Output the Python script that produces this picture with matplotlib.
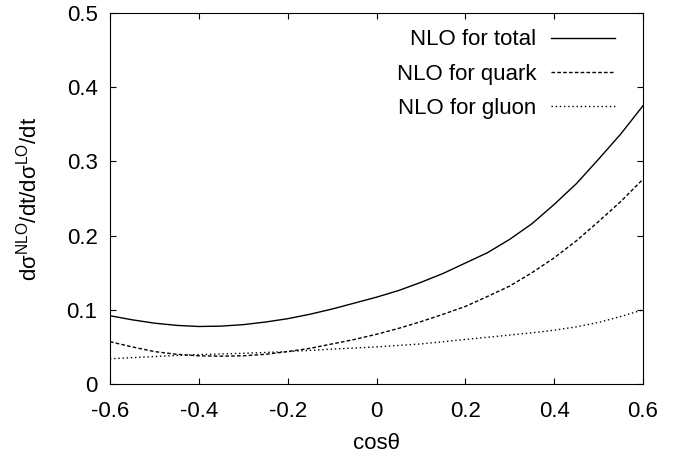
import matplotlib
matplotlib.use("Agg")
import matplotlib.pyplot as plt

plt.rcParams['font.family'] = ['Liberation Sans', 'DejaVu Sans']
plt.rcParams['mathtext.fontset'] = 'custom'
plt.rcParams['mathtext.rm'] = 'Liberation Sans'
plt.rcParams['mathtext.it'] = 'Liberation Sans:italic'
plt.rcParams['axes.unicode_minus'] = False

# values, every 0.05 in cos(theta)
cos_theta = [-0.6, -0.55, -0.5, -0.45, -0.4, -0.35, -0.3, -0.25, -0.2, -0.15, -0.1, -0.05,
             0.0, 0.05, 0.1, 0.15, 0.2, 0.25, 0.3, 0.35, 0.4, 0.45, 0.5, 0.55, 0.6]
nlo_total = [0.092, 0.0865, 0.082, 0.079, 0.0775, 0.078, 0.080, 0.0835, 0.088, 0.094, 0.101, 0.109,
             0.117, 0.126, 0.137, 0.149, 0.163, 0.177, 0.195, 0.216, 0.242, 0.270, 0.303, 0.337, 0.375]
nlo_quark = [0.057, 0.050, 0.0437, 0.040, 0.038, 0.0375, 0.038, 0.040, 0.0437, 0.048, 0.054, 0.060,
             0.067, 0.075, 0.084, 0.094, 0.1045, 0.118, 0.132, 0.150, 0.170, 0.193, 0.219, 0.246, 0.276]
nlo_gluon = [0.034, 0.0355, 0.037, 0.0385, 0.0397, 0.0405, 0.0414, 0.0425, 0.0437, 0.0453, 0.047, 0.0485,
             0.050, 0.052, 0.054, 0.057, 0.060, 0.063, 0.066, 0.069, 0.0725, 0.077, 0.083, 0.091, 0.100]

xticks = [-0.6, -0.4, -0.2, 0, 0.2, 0.4, 0.6]
xtick_labels = ["-0.6", "-0.4", "-0.2", "0", "0.2", "0.4", "0.6"]
yticks = [0, 0.1, 0.2, 0.3, 0.4, 0.5]
ytick_labels = ["0", "0.1", "0.2", "0.3", "0.4", "0.5"]

fs = 16

fig = plt.figure(figsize=(6.76, 4.55), dpi=100)
ax = fig.add_axes([110/676, 71/455, 533/676, 371/455])

ax.plot(cos_theta, nlo_total, color='black', lw=1.0, ls='-', label='NLO for total')
ax.plot(cos_theta, nlo_quark, color='black', lw=1.0, ls=(0, (2.6, 1.6)), label='NLO for quark')
ax.plot(cos_theta, nlo_gluon, color='black', lw=1.0, ls=(0, (1.0, 2.0)), label='NLO for gluon')

ax.set_xlim(-0.6, 0.6)
ax.set_ylim(0, 0.5)
ax.set_xticks(xticks)
ax.set_xticklabels(xtick_labels, fontsize=fs)
ax.set_yticks(yticks)
ax.set_yticklabels(ytick_labels, fontsize=fs)
ax.tick_params(axis='both', direction='in', length=4.5, width=0.8,
               top=True, right=True)
ax.tick_params(axis='x', pad=12)
ax.tick_params(axis='y', pad=9)
for s in ax.spines.values():
    s.set_linewidth(0.8)

ax.set_xlabel('cosθ', fontsize=fs, labelpad=8)
ax.set_ylabel(r'dσ$^{\mathrm{NLO}}$/dt/dσ$^{\mathrm{LO}}$/dt', fontsize=fs, labelpad=18)

ax.legend(loc='upper right', bbox_to_anchor=(0.9475, 0.956), frameon=False,
          markerfirst=False, fontsize=fs, handlelength=2.86, handletextpad=0.68,
          labelspacing=0.6, borderpad=0, borderaxespad=0)

plt.savefig('out.png', dpi=100)
